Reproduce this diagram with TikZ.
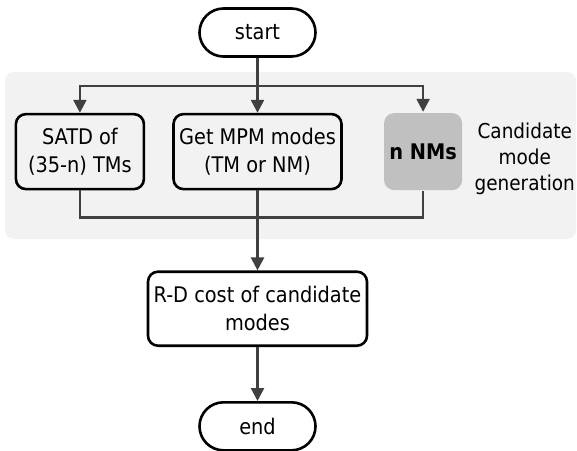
\documentclass[tikz,border=0pt]{standalone}
\usepackage{fontspec}
\setmainfont{DejaVu Sans Condensed}
\usepackage{tikz}
\usetikzlibrary{positioning,arrows.meta,backgrounds}
\definecolor{CMGline}{RGB}{64,64,64}
\definecolor{CMGpanel}{RGB}{242,242,242}
\definecolor{CMGnm}{RGB}{192,192,192}
\tikzstyle{pbox}  = [rectangle, rounded corners=10pt, draw=black, line width=2.6pt,
                     align=center, inner sep=3pt,
                     font=\fontsize{21.5}{28}\selectfont]
\tikzstyle{Bterm} = [pbox, rounded corners=24pt,
                     minimum width=116pt, minimum height=48pt]
\tikzstyle{Bsatd} = [pbox, minimum width=128pt, minimum height=75pt]
\tikzstyle{Bmpm}  = [pbox, minimum width=168pt, minimum height=75pt]
\tikzstyle{Bnm}   = [pbox, draw=none, fill=CMGnm,
                     minimum width=78pt, minimum height=77pt,
                     font=\fontsize{21.5}{28}\selectfont\bfseries]
\tikzstyle{Brd}   = [pbox, minimum width=219pt, minimum height=74pt]
\tikzstyle{lbl}   = [align=center, inner sep=0pt,
                     font=\fontsize{20.5}{26}\selectfont]

\begin{document}
\begin{tikzpicture}[>={Triangle[length=13pt,width=13pt]},
                    line width=2.4pt, draw=CMGline]
  \useasboundingbox (0,0) rectangle (577pt,-450pt);

  \node[Bterm] (start) at (257.5pt,-32.5pt) {start};
  \node[Bmpm,  below=55pt of start]  (mpm)  {Get MPM modes\\(TM or NM)};
  \node[Bsatd, left=27pt of mpm]     (satd) {SATD of\\(35-n) TMs};
  \node[Bnm,   right=40pt of mpm]    (nnm)  {n NMs};
  \node[lbl,   right=10pt of nnm, yshift=-7pt] (cmg) {Candidate\\mode\\generation};
  \node[Brd,   below=80pt of mpm]    (rd)   {R-D cost of candidate\\modes};
  \node[Bterm, below=54pt of rd]     (end)  {end};

  \coordinate[below=28pt of start.south] (split);
  \coordinate[below=27pt of mpm.south]   (merge);

  % grey panel behind the three candidate branches
  \begin{scope}[on background layer]
    \fill[CMGpanel, rounded corners=9pt] (5pt,-72pt) rectangle (576pt,-239pt);
  \end{scope}

  \draw[->, CMGline] (start) -- (mpm);
  \draw[->, CMGline] (split) -| (satd);
  \draw[->, CMGline] (split) -| (nnm);
  \draw[CMGline] (satd) |- (merge) -| (nnm);
  \draw[->, CMGline] (mpm) -- (rd);
  \draw[->, CMGline] (rd)  -- (end);
\end{tikzpicture}
\end{document}
